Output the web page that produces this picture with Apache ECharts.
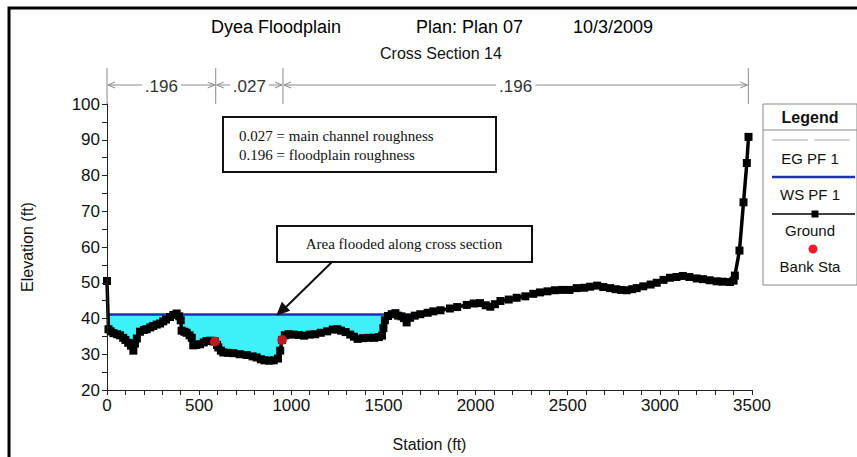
<!DOCTYPE html>
<html>
<head>
<meta charset="utf-8">
<script src="https://cdn.jsdelivr.net/npm/echarts@6/dist/echarts.min.js"></script>
<style>
  html, body { margin: 0; padding: 0; background: #fff; }
  #main { width: 857px; height: 457px; }
</style>
</head>
<body>
<div id="main"></div>
<script>
// Cross section 14 ground survey: station (ft) and elevation (ft)
const groundStation = [
  0, 8, 20, 35, 55, 70, 88, 100, 115, 130, 143, 152, 162, 179, 200, 215, 235, 251, 270, 288,
  305, 320, 342, 360, 378, 392, 400, 405, 420, 432, 448, 460, 468, 485, 505, 525, 541, 560, 575, 586,
  597, 604, 618, 631, 655, 685, 720, 758, 790, 812, 835, 855, 880, 905, 928, 940, 950, 965, 985, 1010,
  1040, 1070, 1100, 1130, 1160, 1195, 1225, 1250, 1270, 1295, 1320, 1340, 1360, 1390, 1420, 1450, 1475, 1492, 1500, 1508,
  1525, 1545, 1565, 1580, 1598, 1612, 1626, 1645, 1670, 1700, 1740, 1771, 1810, 1861, 1900, 1952, 1990, 2024, 2055, 2080,
  2105, 2135, 2180, 2223, 2270, 2313, 2350, 2390, 2430, 2470, 2510, 2549, 2590, 2622, 2660, 2693, 2730, 2760, 2790, 2820,
  2850, 2874, 2910, 2950, 2983, 3020, 3055, 3090, 3125, 3160, 3200, 3234, 3270, 3308, 3340, 3380, 3400, 3407, 3432, 3454,
  3472, 3481
];
const groundElev = [
  50.5, 37.0, 36.4, 35.9, 35.6, 35.3, 34.6, 34.0, 33.2, 32.4, 31.0, 33.0, 34.4, 36.3, 36.8, 37.0, 37.5, 37.9, 38.3, 38.6,
  39.2, 39.7, 40.4, 41.0, 41.4, 40.6, 39.5, 36.6, 36.3, 36.0, 35.3, 34.6, 32.5, 32.6, 32.8, 33.3, 33.7, 33.8, 33.6, 33.6,
  32.6, 31.9, 31.0, 30.5, 30.4, 30.3, 30.0, 29.8, 29.4, 29.1, 28.6, 28.3, 28.2, 28.3, 28.8, 31.0, 34.0, 35.3, 35.6, 35.5,
  35.4, 35.2, 35.5, 35.6, 36.0, 36.4, 36.9, 37.0, 36.6, 36.2, 35.5, 34.9, 34.3, 34.5, 34.6, 34.6, 34.8, 35.2, 37.3, 39.5,
  40.7, 41.2, 41.5, 40.8, 40.6, 40.1, 38.9, 40.2, 40.8, 41.2, 41.6, 42.0, 42.3, 42.8, 43.2, 43.8, 44.2, 44.3, 43.7, 43.3,
  44.0, 44.9, 45.3, 45.8, 46.2, 46.9, 47.3, 47.6, 47.9, 48.0, 48.0, 48.5, 48.6, 48.9, 49.2, 48.8, 48.5, 48.2, 48.0, 47.9,
  48.2, 48.5, 49.0, 49.5, 50.0, 50.8, 51.4, 51.6, 51.9, 51.6, 51.2, 51.0, 50.7, 50.4, 50.3, 50.2, 50.6, 52.0, 59.0, 72.5,
  83.5, 90.8
];

// Main channel bank stations
const bankStation = [586, 950];
const bankElev = [33.6, 34.0];

// Water surface and energy grade, profile PF 1
const wsStation = [0, 1700];
const wsElev = [41.1, 41.1];
const egElev = [41.1, 41.1];

// Manning's n breakpoints and values across the section
const nBounds = [0, 590, 955, 3480];
const nValues = ['.196', '.027', '.196'];

// Axis ranges and tick steps
const stationRange = [0, 3500, 500];
const elevRange = [20, 100, 10];

const pairs = (xs, ys) => xs.map((x, i) => [x, ys[i]]);
const groundData = pairs(groundStation, groundElev);
const bankData = pairs(bankStation, bankElev);
const wsData = pairs(wsStation, wsElev);
const egData = pairs(wsStation, egElev);

const FONT = '"Liberation Sans", Arial, sans-serif';
const SERIF = '"Liberation Serif", "Times New Roman", serif';

const chart = echarts.init(document.getElementById('main'), null, { renderer: 'svg' });

const titleStyle = { fontSize: 18, fontWeight: 'normal', fontFamily: FONT, color: '#000' };

chart.setOption({
  animation: false,
  backgroundColor: '#fff',
  title: [
    { text: 'Dyea Floodplain', left: 206, top: 13, textStyle: titleStyle },
    { text: 'Plan: Plan 07', left: 411, top: 13, textStyle: titleStyle },
    { text: '10/3/2009', left: 568, top: 13, textStyle: titleStyle },
    { text: 'Cross Section 14', left: 375, top: 40, textStyle: { fontSize: 16, fontWeight: 'normal', fontFamily: FONT, color: '#111' } }
  ],
  grid: { left: 107, right: 105, top: 104, bottom: 62, containLabel: false },
  xAxis: {
    type: 'value',
    min: stationRange[0], max: stationRange[1], interval: stationRange[2],
    z: 10,
    name: 'Station (ft)', nameLocation: 'middle', nameGap: 46,
    nameTextStyle: { fontSize: 16, fontFamily: FONT, color: '#111' },
    axisLine: { show: true, onZero: false, lineStyle: { color: '#222', width: 1 } },
    axisTick: { show: true, inside: false, length: 5, lineStyle: { color: '#222' } },
    minorTick: { show: true, splitNumber: 5, length: 5, lineStyle: { color: '#222' } },
    splitLine: { show: false },
    axisLabel: { fontSize: 17, fontFamily: FONT, color: '#111', margin: 7, formatter: v => String(v) }
  },
  yAxis: {
    type: 'value',
    min: elevRange[0], max: elevRange[1], interval: elevRange[2],
    z: 10,
    name: 'Elevation (ft)', nameLocation: 'middle', nameGap: 72, nameRotate: 90,
    nameTextStyle: { fontSize: 16, fontFamily: FONT, color: '#111' },
    axisLine: { show: true, onZero: false, lineStyle: { color: '#222', width: 1 } },
    axisTick: { show: true, inside: false, length: 5, lineStyle: { color: '#222' } },
    minorTick: { show: true, splitNumber: 2, length: 5, lineStyle: { color: '#222' } },
    splitLine: { show: false },
    axisLabel: { fontSize: 17, fontFamily: FONT, color: '#111', margin: 7, formatter: v => String(v) }
  },
  series: [
    { // flooded area below the water surface
      name: 'ws-fill', type: 'line', data: wsData, symbol: 'none', silent: true,
      lineStyle: { width: 0 }, areaStyle: { color: '#3ef0f7', opacity: 1, origin: 'start' }, z: 1
    },
    { // ground mass masks the flood fill below the terrain
      name: 'ground-fill', type: 'line', data: groundData, symbol: 'none', silent: true,
      lineStyle: { width: 0 }, areaStyle: { color: '#ffffff', opacity: 1, origin: 'start' }, z: 2
    },
    {
      name: 'EG PF 1', type: 'line', data: egData, symbol: 'none',
      lineStyle: { color: '#9a9a9a', width: 1, type: 'dashed' }, z: 3
    },
    {
      name: 'WS PF 1', type: 'line', data: wsData, symbol: 'none',
      lineStyle: { color: '#1f33a8', width: 2.5 }, z: 4
    },
    {
      name: 'Ground', type: 'line', data: groundData, symbol: 'rect', symbolSize: 8,
      itemStyle: { color: '#000' }, lineStyle: { color: '#000', width: 3.5 }, z: 5
    },
    {
      name: 'Bank Sta', type: 'scatter', data: bankData, symbol: 'circle', symbolSize: 10,
      itemStyle: { color: '#e8202a' }, z: 6
    }
  ]
});

// Overlay: page frame, Manning's n bar, notes and legend
function overlay() {
  const px = s => chart.convertToPixel({ gridIndex: 0 }, [s, elevRange[0]])[0];
  const gridTop = chart.convertToPixel({ gridIndex: 0 }, [0, elevRange[1]])[1];
  const els = [];
  const grey = '#8a8a8a';

  // page frame (left and top edges show)
  els.push({ type: 'rect', shape: { x: 9, y: 8, width: 900, height: 500 },
    style: { fill: 'none', stroke: '#000', lineWidth: 3 }, z: 100 });

  // Manning's n bar
  const yTop = gridTop - 36, yBar = gridTop - 19;
  nBounds.forEach(b => {
    const x = px(b);
    els.push({ type: 'line', shape: { x1: x, y1: yTop, x2: x, y2: gridTop }, style: { stroke: grey, lineWidth: 1 } });
  });
  for (let i = 0; i < nValues.length; i++) {
    const x0 = px(nBounds[i]) + 1, x1 = px(nBounds[i + 1]) - 1;
    els.push({ type: 'line', shape: { x1: x0, y1: yBar, x2: x1, y2: yBar }, style: { stroke: grey, lineWidth: 1 } });
    els.push({ type: 'polyline', shape: { points: [[x0 + 7, yBar - 3], [x0, yBar], [x0 + 7, yBar + 3]] }, style: { stroke: grey, lineWidth: 1, fill: 'none' } });
    els.push({ type: 'polyline', shape: { points: [[x1 - 7, yBar - 3], [x1, yBar], [x1 - 7, yBar + 3]] }, style: { stroke: grey, lineWidth: 1, fill: 'none' } });
    els.push({ type: 'text', z: 5, style: {
      text: nValues[i], x: (x0 + x1) / 2, y: yBar + 1, align: 'center', verticalAlign: 'middle',
      font: '17px ' + FONT, fill: '#333', backgroundColor: '#fff', padding: [0, 3]
    } });
  }

  // roughness note
  els.push({ type: 'rect', shape: { x: 223, y: 117, width: 273, height: 55 },
    style: { fill: '#fff', stroke: '#111', lineWidth: 2 }, z: 20 });
  els.push({ type: 'text', z: 21, style: { text: '0.027 = main channel roughness', x: 239, y: 136,
    verticalAlign: 'middle', font: '15px ' + SERIF, fill: '#111' } });
  els.push({ type: 'text', z: 21, style: { text: '0.196 = floodplain roughness', x: 239, y: 155,
    verticalAlign: 'middle', font: '15px ' + SERIF, fill: '#111' } });

  // flooded area note with leader arrow
  els.push({ type: 'rect', shape: { x: 277, y: 226, width: 255, height: 36 },
    style: { fill: '#fff', stroke: '#111', lineWidth: 2 }, z: 20 });
  els.push({ type: 'text', z: 21, style: { text: 'Area flooded along cross section', x: 404, y: 244,
    align: 'center', verticalAlign: 'middle', font: '15px ' + SERIF, fill: '#111' } });
  els.push({ type: 'line', z: 20, shape: { x1: 332, y1: 262, x2: 286, y2: 307 }, style: { stroke: '#111', lineWidth: 2 } });
  els.push({ type: 'polygon', z: 20, shape: { points: [[277, 315], [289.5, 310.5], [282, 302.5]] }, style: { fill: '#111', stroke: '#111' } });

  // legend box
  const lx = 763, lw = 94, cx = 810;
  els.push({ type: 'rect', shape: { x: lx, y: 104, width: lw, height: 181 },
    style: { fill: '#fff', stroke: '#888', lineWidth: 1 }, z: 30 });
  els.push({ type: 'line', shape: { x1: lx, y1: 130, x2: lx + lw, y2: 130 }, style: { stroke: '#888', lineWidth: 1 }, z: 31 });
  els.push({ type: 'text', z: 31, style: { text: 'Legend', x: cx, y: 117, align: 'center', verticalAlign: 'middle',
    font: 'bold 16px ' + FONT, fill: '#111' } });
  const legText = (t, y) => els.push({ type: 'text', z: 31, style: { text: t, x: cx, y: y, align: 'center',
    verticalAlign: 'middle', font: '15px ' + FONT, fill: '#111' } });
  els.push({ type: 'line', z: 31, shape: { x1: 772, y1: 140, x2: 855, y2: 140 },
    style: { stroke: '#aaa', lineWidth: 1, lineDash: [36, 6] } });
  legText('EG PF 1', 158);
  els.push({ type: 'line', z: 31, shape: { x1: 772, y1: 177, x2: 855, y2: 177 }, style: { stroke: '#1f33a8', lineWidth: 2.5 } });
  legText('WS PF 1', 194);
  els.push({ type: 'line', z: 31, shape: { x1: 772, y1: 214, x2: 855, y2: 214 }, style: { stroke: '#000', lineWidth: 1.5 } });
  els.push({ type: 'rect', z: 32, shape: { x: 811.5, y: 210.5, width: 7, height: 7 }, style: { fill: '#000' } });
  legText('Ground', 230);
  els.push({ type: 'circle', z: 32, shape: { cx: 813, cy: 249, r: 4.5 }, style: { fill: '#e8202a' } });
  legText('Bank Sta', 266);

  chart.setOption({ graphic: { elements: els } });
}
overlay();
</script>
</body>
</html>
